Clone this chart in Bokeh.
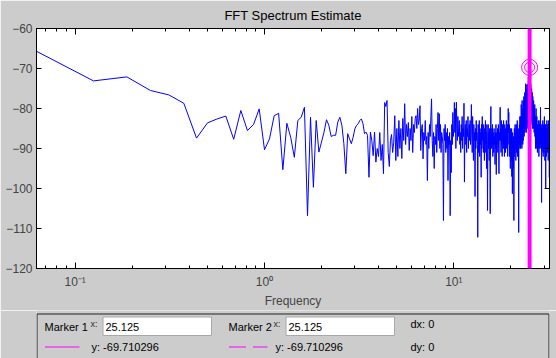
from bokeh.plotting import figure
from bokeh.models import Range1d, LinearAxis, LogAxis, FixedTicker, Span, ColumnDataSource
from bokeh.layouts import column
from bokeh.embed import file_html
from bokeh.resources import INLINE
from bokeh.core.properties import value

# ---------------- data ----------------
bin_width = 0.0625  # Hz per FFT bin
spectrum_db = [
    -65.7, -73.1, -72.1, -75.5, -76.6, -78.7, -87.4, -83.6, -82.6, -81.9,
    -87.7, -80.5, -85.5, -84.0, -80.1, -90.3, -87.6, -81.8, -81.2, -95.3,
    -83.7, -87.2, -92.2, -83.0, -82.2, -79.7, -106.8, -82.2, -99.7, -83.0,
    -90.9, -88.4, -85.9, -82.8, -84.2, -87.0, -86.7, -86.7, -83.4, -82.2,
    -84.2, -88.8, -96.3, -86.3, -87.6, -88.8, -87.2, -85.1, -84.2, -83.8,
    -83.0, -82.6, -83.8, -86.3, -85.9, -86.7, -97.2, -85.9, -88.0, -91.8,
    -85.9, -93.4, -90.0, -92.0, -86.0, -93.0, -89.0, -96.3, -78.5, -79.5,
    -78.0, -91.0, -94.5, -88.0, -86.5, -91.0, -88.5, -81.8, -93.0, -85.0,
    -92.0, -83.0, -90.0, -85.0, -92.5, -82.5, -88.0, -78.8, -89.0, -84.0,
    -87.0, -83.5, -90.5, -85.0, -88.0, -82.0, -91.0, -84.0, -86.0, -82.5,
    -81.8, -85.0, -80.0, -84.0, -83.0, -79.3, -90.5, -85.0, -84.0, -92.6,
    -86.0, -88.0, -83.0, -89.0, -87.0, -98.0, -86.0, -90.0, -84.0, -87.0,
    -82.0, -77.6, -88.0, -92.0, -86.0, -95.0, -87.0, -89.0, -84.0, -91.0,
    -85.0, -81.0, -88.0, -81.3, -90.0, -84.0, -91.0, -86.0, -87.0, -89.0,
    -108.0, -85.0, -88.0, -84.0, -91.0, -86.0, -90.0, -85.0, -98.0, -87.0,
    -89.0, -86.0, -106.8, -88.0, -96.0, -84.0, -89.0, -81.0, -87.0, -85.0,
    -78.5, -86.0, -80.0, -90.0, -78.4, -84.0, -88.0, -82.0, -87.0, -85.0,
    -83.0, -89.0, -86.0, -91.0, -84.0, -88.0, -82.0, -90.0, -85.0, -87.0,
    -78.7, -98.4, -86.0, -84.0, -89.0, -83.0, -91.0, -85.0, -87.0, -82.0,
    -90.0, -86.0, -84.0, -88.0, -83.0, -89.0, -87.0, -79.0, -85.0, -91.0,
    -82.0, -87.0, -93.0, -84.0, -88.0, -86.0, -102.0, -85.0, -90.0, -83.0,
    -88.0, -86.0, -89.0, -112.2, -84.0, -91.0, -87.0, -83.0, -92.0, -85.0,
    -89.0, -86.0, -97.2, -84.0, -90.0, -82.0, -88.0, -86.0, -91.0, -84.0,
    -87.0, -93.0, -85.0, -89.0, -83.0, -91.0, -86.0, -95.0, -84.0, -88.0,
    -105.5, -87.0, -84.0, -90.0, -86.0, -93.0, -85.0, -88.0, -106.3, -84.0,
    -79.5, -87.0, -90.0, -85.0, -89.0, -84.0, -92.0, -86.0, -88.0, -91.0,
    -85.0, -89.0, -87.0, -94.0, -86.0, -90.0, -84.0, -96.5, -88.0, -86.0,
    -89.0, -85.0, -91.0, -87.0, -84.0, -90.0, -96.3, -86.0, -88.0, -85.0,
    -79.7, -88.0, -85.0, -91.0, -83.0, -89.0, -86.0, -92.0, -84.0, -88.0,
    -86.0, -90.0, -83.0, -89.0, -87.0, -92.0, -84.0, -88.0, -85.0, -91.0,
    -86.0, -89.0, -83.0, -90.0, -85.0, -88.0, -84.0, -92.0, -87.0, -80.0,
    -86.0, -81.0, -89.0, -84.0, -92.0, -86.0, -88.0, -95.0, -85.0, -90.0,
    -87.0, -93.0, -85.0, -97.0, -88.0, -101.3, -86.0, -91.0, -89.0, -95.0,
    -87.0, -108.0, -90.0, -85.0, -92.0, -88.0, -84.0, -90.0, -86.0, -93.0,
    -87.0, -84.0, -91.0, -85.0, -89.0, -83.0, -92.0, -86.0, -88.0, -85.0,
    -88.0, -111.0, -86.0, -90.0, -84.0, -89.0, -82.0, -87.0, -85.0, -90.0,
    -82.0, -89.0, -79.0, -88.0, -83.0, -90.0, -78.0, -87.0, -81.0, -89.0,
    -80.0, -88.0, -78.0, -86.0, -77.0, -87.0, -79.0, -85.0, -76.0, -86.0,
    -78.0, -85.0, -73.8, -84.0, -77.0, -86.0, -75.0, -83.0, -74.0, -85.0,
    -76.0, -84.0, -74.0, -82.0, -75.0, -72.2, -80.0, -74.0, -83.0, -73.0,
    -72.0, -69.710296, -77.0, -73.0, -80.0, -75.0, -82.0, -74.0, -78.0, -76.0,
    -83.0, -75.0, -80.0, -84.0, -76.0, -82.0, -85.0, -77.0, -84.0, -79.0,
    -85.0, -78.0, -84.0, -80.0, -86.0, -81.0, -85.0, -79.0, -87.0, -82.0,
    -86.0, -90.0, -82.0, -88.0, -80.0, -90.0, -84.0, -87.0, -82.0, -89.0,
    -86.0, -91.0, -84.0, -88.0, -85.0, -90.0, -83.0, -87.0, -86.0, -92.0,
    -85.0, -88.0, -84.0, -90.0, -86.0, -83.0, -89.0, -85.0, -79.7, -87.0,
    -90.0, -84.0, -88.0, -86.0, -103.5, -85.0, -91.0, -84.0, -88.0, -86.0,
    -90.0, -83.0, -87.0, -92.0, -85.0, -89.0, -84.0, -91.0, -86.0, -88.0,
    -82.0, -90.0, -85.0, -93.0, -87.0, -84.0, -89.0, -86.0, -100.0, -84.0,
    -88.0, -85.0, -92.0, -86.0, -89.0, -83.0, -90.0, -87.0, -85.0, -91.0,
    -84.0, -88.0, -86.0, -93.0, -85.0, -89.0, -83.0, -90.0, -87.0, -85.0,
    -97.2, -86.0,
]
frequency = [(i + 1) * bin_width for i in range(len(spectrum_db))]

y_ticks = [-120, -110, -100, -90, -80, -70, -60]
x_major_ticks = [0.1, 1, 10]
x_minor_ticks = [0.07, 0.08, 0.09, 0.2, 0.3, 0.4, 0.5, 0.6, 0.7, 0.8, 0.9,
                 2, 3, 4, 5, 6, 7, 8, 9, 20, 30]
x_tick_labels = {0.1: "10\u207b\u00b9", 1: "10\u2070", 10: "10\u00b9"}

marker1_x, marker1_y = 25.125, -69.710296
marker2_x, marker2_y = 25.125, -69.710296

FONT = "Liberation Sans"
BG = "#cccccc"
MAG = "#ff00ff"

# ---------------- main plot ----------------
p = figure(width=556, height=310, x_axis_type="log",
           x_range=Range1d(0.0625, 32), y_range=Range1d(-120, -60),
           output_backend="svg", toolbar_location=None,
           min_border_left=36, min_border_right=7, min_border_top=28, min_border_bottom=42,
           background_fill_color="white", border_fill_color=BG,
           outline_line_color="black")
p.title.text = "FFT Spectrum Estimate"
p.title.align = "center"
p.title.vertical_align = "top"
p.title.text_font = FONT
p.title.text_font_size = "13px"
p.title.text_font_style = "normal"
p.title.text_color = "black"
p.title.standoff = 8
p.grid.visible = False

xt = FixedTicker(ticks=x_major_ticks, minor_ticks=x_minor_ticks)
yt = FixedTicker(ticks=y_ticks, minor_ticks=[])

bx = p.below[0]
bx.ticker = xt
bx.major_label_overrides = x_tick_labels
bx.major_tick_in = 6
bx.major_tick_out = 0
bx.minor_tick_in = 3
bx.minor_tick_out = 0
bx.major_label_text_font = FONT
bx.major_label_text_font_size = "12px"
bx.major_label_standoff = 6
bx.axis_label = "Frequency"
bx.axis_label_text_font = FONT
bx.axis_label_text_font_size = "12px"
bx.axis_label_text_font_style = "normal"
bx.axis_label_standoff = 2

ly = p.left[0]
ly.ticker = yt
ly.major_tick_in = 5
ly.major_tick_out = 0
ly.minor_tick_in = 0
ly.minor_tick_out = 0
ly.major_label_text_font = FONT
ly.major_label_text_font_size = "12px"
ly.major_label_standoff = 4

ry = LinearAxis(ticker=yt, major_tick_in=5, major_tick_out=0, minor_tick_in=0, minor_tick_out=0,
                major_label_text_font_size="1px", major_label_text_color=None,
                major_label_standoff=0)
p.add_layout(ry, "right")
tx = LogAxis(ticker=xt, major_tick_in=6, major_tick_out=0, minor_tick_in=3, minor_tick_out=0,
             major_label_text_font_size="1px", major_label_text_color=None,
             major_label_standoff=0)
p.add_layout(tx, "above")

src = ColumnDataSource(dict(f=frequency, db=spectrum_db))
p.line("f", "db", source=src, line_color="#0000ff", line_width=1)

p.add_layout(Span(location=marker1_x, dimension="height", line_color=MAG, line_width=4))
p.scatter([marker1_x], [marker1_y], marker="circle", size=16, fill_alpha=0, line_color=MAG, line_width=1)
p.scatter([marker2_x], [marker2_y], marker="circle", size=10, fill_alpha=0, line_color=MAG, line_width=1)

# ---------------- marker panel (frame aligned with the plot frame: x in page pixels) ----------------
q = figure(width=556, height=48, x_range=Range1d(36, 549), y_range=Range1d(48, 0),
           output_backend="svg", toolbar_location=None,
           x_axis_location=None, y_axis_location=None,
           min_border_left=36, min_border_right=7, min_border_top=0, min_border_bottom=0,
           background_fill_color=BG, border_fill_color=BG, outline_line_color=None)
q.grid.visible = False

q.quad(left=[36.5], right=[548.5], top=[3.5], bottom=[60], fill_alpha=0, line_color="#202020", line_width=1)
q.quad(left=[102.5, 285.5], right=[211, 394], top=[6.5, 6.5], bottom=[25, 25],
       fill_color="white", line_color="#a8a8a8", line_width=1)

q.text(x=[44, 228], y=[16.5, 16.5], text=["Marker 1", "Marker 2"],
       text_font=value(FONT), text_font_size="11px", text_baseline="middle", text_color="black")
q.text(x=[90, 273], y=[13, 13], text=["x:", "x:"],
       text_font=value(FONT), text_font_size="9px", text_baseline="middle", text_color="#333333")
q.text(x=[105, 288], y=[16.5, 16.5], text=[f"{marker1_x:g}", f"{marker2_x:g}"],
       text_font=value(FONT), text_font_size="11px", text_baseline="middle", text_color="black")
q.text(x=[410], y=[13.5], text=[f"dx: {marker2_x - marker1_x:g}"],
       text_font=value(FONT), text_font_size="11px", text_baseline="middle", text_color="black")
q.text(x=[91, 275, 410], y=[36.5, 36.5, 36.5],
       text=[f"y: {marker1_y:.6f}", f"y: {marker2_y:.6f}", f"dy: {marker2_y - marker1_y:g}"],
       text_font=value(FONT), text_font_size="11px", text_baseline="middle", text_color="black")
q.segment(x0=[44.5], y0=[36.5], x1=[79], y1=[36.5], line_color=MAG, line_width=1)
q.segment(x0=[228.5], y0=[36.5], x1=[267], y1=[36.5], line_color=MAG, line_width=1, line_dash="17 7")

layout = column(p, q, spacing=0)
open("out.html", "w").write(file_html(layout, INLINE))
